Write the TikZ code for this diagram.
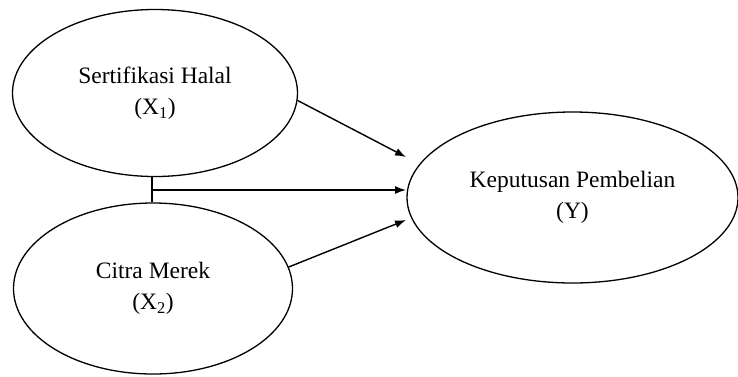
\documentclass[tikz,border=0pt]{standalone}
\usepackage{fontspec}
\setmainfont{Liberation Serif}
\usetikzlibrary{shapes.geometric,arrows.meta}
\tikzset{
  var/.style={draw, ellipse, line width=1.3pt, inner sep=0pt, align=center,
    font=\fontsize{23.5}{31}\selectfont},
  conn/.style={line width=1.4pt},
  arr/.style={conn, -{Latex[length=11pt,width=8pt]}}
}
\begin{document}
\begin{tikzpicture}[x=1pt,y=-1pt]
\useasboundingbox (0,0) rectangle (738,376);
\node[var, minimum width=285pt, minimum height=167pt] (A) at (155,93) {Sertifikasi Halal\\(X\textsubscript{1})};
\node[var, minimum width=279pt, minimum height=171pt] (B) at (153,288.5) {Citra Merek\\(X\textsubscript{2})};
\node[var, minimum width=331pt, minimum height=171pt] (Y) at (572.5,197.5) {Keputusan Pembelian\\(Y)};
\coordinate (J) at (152,190);
\coordinate (t1) at (406,157);
\coordinate (t2) at (406,190);
\coordinate (t3) at (406,220);
\draw[conn] (A.south -| J) -- (B.north -| J);
\draw[arr] (A.-3) -- (t1);
\draw[arr] (J) -- (t2);
\draw[arr] (B.9) -- (t3);
\end{tikzpicture}
\end{document}
